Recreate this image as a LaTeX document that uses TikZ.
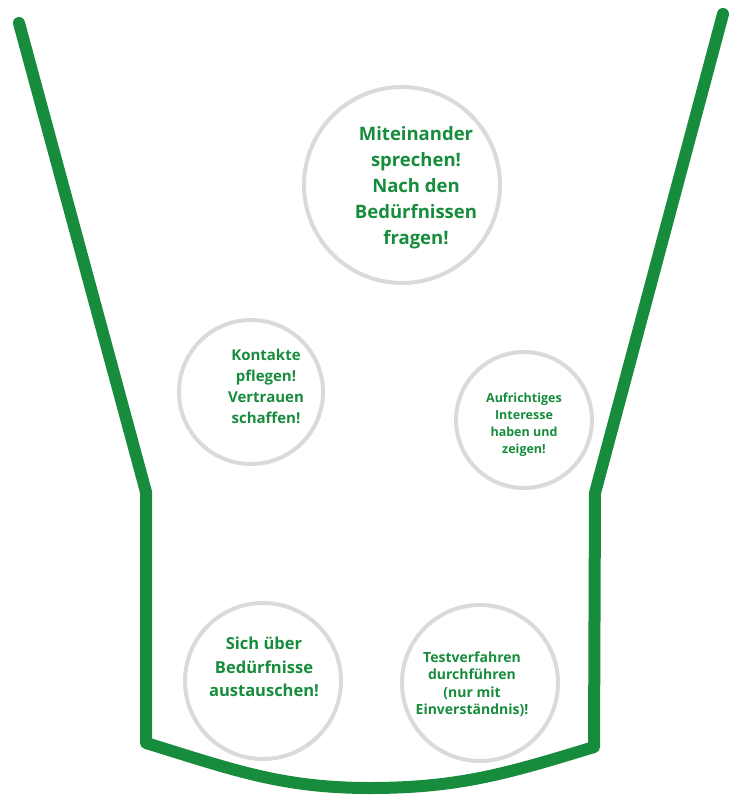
\documentclass[tikz,border=0pt]{standalone}
\usepackage{fontspec}
\setmainfont{Open Sans}
\definecolor{cupgreen}{RGB}{22,140,60}
\definecolor{ringgray}{RGB}{218,218,218}
\tikzset{
  ring/.style={circle, draw=ringgray, line width=4pt, inner sep=0pt},
  say/.style={align=center, text=cupgreen, font=\bfseries},
  cup/.style={draw=cupgreen, line width=12pt, line cap=round, line join=round}
}
\begin{document}
\begin{tikzpicture}[x=1pt, y=-1pt]
\useasboundingbox (0,0) rectangle (731,801);

% the cup
\coordinate (lt) at (19,23);
\coordinate (lk) at (146,492);
\coordinate (lb) at (146,743);
\coordinate (bm) at (370,788);
\coordinate (rb) at (594,747);
\coordinate (rk) at (595,493);
\coordinate (rt) at (723,14);
\draw [cup] (lt)--(lk)--(lb) to[out=-17, in=180] (bm) to[out=0, in=197] (rb)--(rk)--(rt);

% the bubbles
\node [ring, minimum size=196] (talk) at (402,185) {};
\node [say, font=\bfseries\fontsize{18.5}{26}\selectfont] (talktext) at ([shift={(14,3)}]talk)
  {Miteinander\\sprechen!\\Nach den\\Bedürfnissen\\fragen!};

\node [ring, minimum size=144] (trust) at (251,392) {};
\node [say, font=\bfseries\fontsize{15}{21}\selectfont] (trusttext) at ([shift={(15,-6)}]trust)
  {Kontakte\\pflegen!\\Vertrauen\\schaffen!};

\node [ring, minimum size=136] (care) at (524,420) {};
\node [say, font=\bfseries\fontsize{12.5}{17}\selectfont] (caretext) at ([shift={(0,4.5)}]care)
  {Aufrichtiges\\Interesse\\haben und\\zeigen!};

\node [ring, minimum size=156] (swap) at (263,681) {};
\node [say, font=\bfseries\fontsize{16.5}{23.5}\selectfont] (swaptext) at ([shift={(1,-14)}]swap)
  {Sich über\\Bedürfnisse\\austauschen!};

\node [ring, minimum size=156] (test) at (480,683) {};
\node [say, font=\bfseries\fontsize{14}{17.5}\selectfont] (testtext) at ([shift={(-8,1)}]test)
  {Testverfahren\\durchführen\\(nur mit\\Einverständnis)!};
\end{tikzpicture}
\end{document}
